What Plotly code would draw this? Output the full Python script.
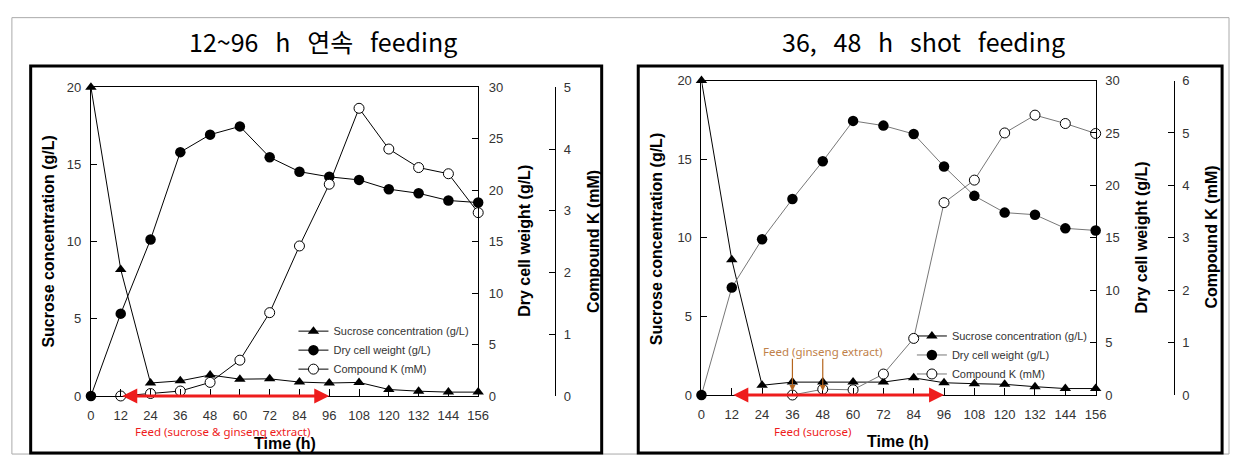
import plotly.graph_objects as go

# ---------------- data ----------------
time_h = [0, 12, 24, 36, 48, 60, 72, 84, 96, 108, 120, 132, 144, 156]
x_ticks = time_h

# Panel A: 12~96 h continuous feeding
a_sucrose = [20, 8.2, 0.84, 0.98, 1.36, 1.09, 1.11, 0.9, 0.84, 0.88, 0.42, 0.31, 0.25, 0.25]
a_dcw = [0, 8.0, 15.2, 23.7, 25.4, 26.2, 23.2, 21.8, 21.3, 21.0, 20.1, 19.7, 19.0, 18.8]
a_ck = [None, 0.0, 0.04, 0.08, 0.22, 0.58, 1.35, 2.43, 3.43, 4.66, 4.0, 3.70, 3.60, 2.97]

# Panel B: 36, 48 h shot feeding
b_sucrose = [20, 8.6, 0.62, 0.82, 0.82, 0.82, 0.82, 1.09, 0.78, 0.72, 0.68, 0.53, 0.41, 0.41]
b_dcw = [0, 10.25, 14.86, 18.7, 22.3, 26.15, 25.7, 24.9, 21.8, 19.0, 17.4, 17.2, 15.9, 15.7]
b_ck = [None, None, None, 0.0, 0.11, 0.10, 0.40, 1.08, 3.67, 4.10, 5.0, 5.34, 5.18, 4.99]

feed_start, feed_end = 12, 96
shot_times = [36, 48]

SP = "\u00a0\u00a0\u00a0"
titles = ["12~96" + SP + "h" + SP + "연속" + SP + "feeding",
          "36," + SP + "48" + SP + "h" + SP + "shot" + SP + "feeding"]
names = ["Sucrose concentration (g/L)", "Dry cell weight (g/L)", "Compound K (mM)"]

W, H = 1241, 463
def px(x):
    return x / W
def py(y):
    return 1 - y / H

fig = go.Figure()

TICKFONT = dict(family="Liberation Sans, Arial", size=13, color="#333333")
AX = dict(showgrid=False, zeroline=False, showline=True, linecolor="black", linewidth=1,
          ticks="inside", ticklen=6, tickcolor="black", tickfont=TICKFONT)

def add_panel(xa, ya, ya2, ya3, suc, dcw, ck, legend, line_grey):
    lc2 = "#777777" if line_grey else "black"
    fig.add_trace(go.Scatter(x=time_h, y=suc, name=names[0], mode="lines+markers", xaxis=xa, yaxis=ya,
                             line=dict(color="black", width=1), legend=legend, cliponaxis=False,
                             marker=dict(symbol="triangle-up", size=10, color="black")))
    fig.add_trace(go.Scatter(x=time_h, y=dcw, name=names[1], mode="lines+markers", xaxis=xa, yaxis=ya2,
                             line=dict(color=lc2, width=1), legend=legend, cliponaxis=False,
                             marker=dict(symbol="circle", size=10.5, color="black")))
    fig.add_trace(go.Scatter(x=time_h, y=ck, name=names[2], mode="lines+markers", xaxis=xa, yaxis=ya3,
                             line=dict(color=lc2, width=1), legend=legend, cliponaxis=False,
                             connectgaps=False,
                             marker=dict(symbol="circle", size=10, color="white",
                                         line=dict(color="black", width=1))))

add_panel("x", "y", "y2", "y3", a_sucrose, a_dcw, a_ck, "legend", False)
add_panel("x2", "y4", "y5", "y6", b_sucrose, b_dcw, b_ck, "legend2", True)

fig.update_layout(
    xaxis=dict(AX, domain=[px(88), px(480)], range=[0, 156], tickvals=x_ticks, mirror=True,
               anchor="y", ticklen=7, ticklabelstandoff=7),
    yaxis=dict(AX, domain=[py(402), py(83)], range=[0, 20], tickvals=[0, 5, 10, 15, 20],
               anchor="x", ticklabelstandoff=6),
    yaxis2=dict(AX, range=[0, 30], tickvals=[0, 5, 10, 15, 20, 25, 30], overlaying="y",
                side="right", anchor="x", ticklabelstandoff=7),
    yaxis3=dict(AX, domain=[py(402), py(83)], range=[0, 5], tickvals=[0, 1, 2, 3, 4, 5],
                overlaying="y", side="right", anchor="free", position=px(558), ticklabelstandoff=5),
    xaxis2=dict(AX, domain=[px(706), px(1105)], range=[0, 156], tickvals=x_ticks, mirror=True,
                anchor="y4", ticklen=7, ticklabelstandoff=7),
    yaxis4=dict(AX, domain=[py(401), py(76)], range=[0, 20], tickvals=[0, 5, 10, 15, 20],
                anchor="x2", ticklabelstandoff=6),
    yaxis5=dict(AX, range=[0, 30], tickvals=[0, 5, 10, 15, 20, 25, 30], overlaying="y4",
                side="right", anchor="x2", ticklabelstandoff=6),
    yaxis6=dict(AX, domain=[py(401), py(76)], range=[0, 6], tickvals=[0, 1, 2, 3, 4, 5, 6],
                overlaying="y4", side="right", anchor="free", position=px(1184), ticklabelstandoff=5),
)

LEGFONT = dict(family="Liberation Sans, Arial", size=11, color="#333333")
fig.update_layout(
    legend=dict(x=px(293), y=py(320), xanchor="left", yanchor="top", font=LEGFONT,
                bgcolor="rgba(0,0,0,0)", tracegroupgap=0, itemsizing="trace"),
    legend2=dict(x=px(919), y=py(325), xanchor="left", yanchor="top", font=LEGFONT,
                 bgcolor="rgba(0,0,0,0)", tracegroupgap=0, itemsizing="trace"),
)

shapes = [
    dict(type="rect", xref="paper", yref="paper", x0=px(8), x1=px(1240), y0=py(462), y1=py(11),
         line=dict(color="#aaaaaa", width=1)),
    dict(type="rect", xref="paper", yref="paper", x0=px(27), x1=px(605), y0=py(461), y1=py(61),
         line=dict(color="black", width=3)),
    dict(type="rect", xref="paper", yref="paper", x0=px(642), x1=px(1233), y0=py(461), y1=py(61),
         line=dict(color="black", width=3)),
]
fig.update_layout(shapes=shapes)

ann = []
def ptext(text, x, y, font, angle=0):
    ann.append(dict(text=text, x=px(x), y=py(y), xref="paper", yref="paper", showarrow=False,
                    xanchor="center", yanchor="middle", textangle=angle, font=font))

TFONT = dict(family="Noto Sans CJK KR", size=25, color="black")
ptext(titles[0], 323, 35, TFONT)
ptext(titles[1], 931, 35, TFONT)

AFONT = dict(family="Liberation Sans, Arial", size=16, color="black")
for t, x, y in ((names[0], 45, 242), (names[1], 527, 242), (names[2], 596, 242),
                (names[0], 660, 240), (names[1], 1151, 238), (names[2], 1222, 238)):
    ptext("<b>%s</b>" % t, x, y, AFONT, -90)
ptext("<b>Time (h)</b>", 284, 451, AFONT)
ptext("<b>Time (h)</b>", 905, 449, AFONT)

RED = "#ee1c1c"
for xr, yr in (("x", "y"), ("x2", "y4")):
    ann.append(dict(x=feed_end, y=0, ax=feed_start, ay=0, xref=xr, yref=yr, axref=xr, ayref=yr,
                    text="", showarrow=True, arrowhead=2, startarrowhead=2, arrowside="end+start",
                    arrowsize=1, startarrowsize=1, arrowwidth=3, arrowcolor=RED))

FFONT = dict(family="Noto Sans", size=11.5, color=RED)
ann.append(dict(text="Feed (sucrose & ginseng extract)", x=53, y=0, xref="x", yref="y", yshift=-36,
                xanchor="center", yanchor="middle", showarrow=False, font=FFONT))
ann.append(dict(text="Feed (sucrose)", x=44, y=0, xref="x2", yref="y4", yshift=-36,
                xanchor="center", yanchor="middle", showarrow=False, font=FFONT))
BROWN = "#b5651d"
ann.append(dict(text="Feed (ginseng extract)", x=48, y=2.75, xref="x2", yref="y4",
                xanchor="center", yanchor="middle", showarrow=False,
                font=dict(family="Noto Sans", size=11.5, color="#c0814a")))
for t in shot_times:
    ann.append(dict(x=t, y=0.25, ax=t, ay=2.4, xref="x2", yref="y4", axref="x2", ayref="y4",
                    text="", showarrow=True, arrowhead=2, arrowsize=1, arrowwidth=1.2, arrowcolor=BROWN))

fig.update_layout(annotations=ann)

fig.update_layout(width=W, height=H, margin=dict(l=0, r=0, t=0, b=0),
                  paper_bgcolor="white", plot_bgcolor="white", showlegend=True)

fig.write_html("out.html")
